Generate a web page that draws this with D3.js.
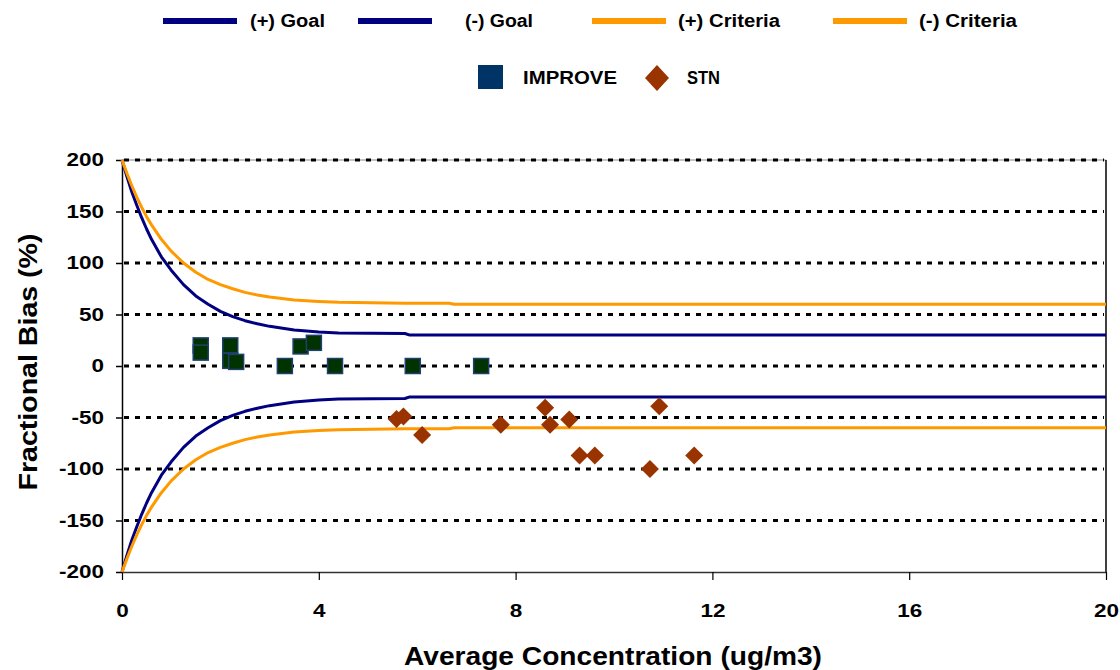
<!DOCTYPE html>
<html>
<head>
<meta charset="utf-8">
<script src="https://cdn.jsdelivr.net/npm/d3@7"></script>
<style>
  html, body { margin: 0; padding: 0; background: #fff; }
  svg { display: block; font-family: "Liberation Sans", Arial, sans-serif; }
</style>
</head>
<body>
<svg id="chart" width="1120" height="670"></svg>
<script>
// ---- data ----
const curveX        = [0, 0.1, 0.2, 0.3, 0.4, 0.5, 0.6, 0.8, 1.0, 1.25, 1.5, 1.75, 2.0, 2.25, 2.5, 2.75, 3.0, 3.5, 4.0, 4.4, 5.75, 5.85, 6.65, 6.75, 20];
const goalPlus      = [200, 184, 169, 156, 144, 133, 123, 106, 93, 79, 68, 60, 53, 48, 44, 41, 38.5, 35, 33, 32, 31.5, 30, 30, 30, 30];
const goalMinus     = [-200, -184, -169, -156, -144, -133, -123, -106, -93, -79, -68, -60, -53, -48, -44, -41, -38.5, -35, -33, -32, -31.5, -30, -30, -30, -30];
const criteriaPlus  = [200, 187, 175, 164, 154, 145, 137, 123, 111.5, 100, 91, 84, 79, 75, 71.5, 69, 67, 64, 62.6, 61.8, 61, 61, 61, 60, 60];
const criteriaMinus = [-200, -187, -175, -164, -154, -145, -137, -123, -111.5, -100, -91, -84, -79, -75, -71.5, -69, -67, -64, -62.6, -61.8, -61, -61, -61, -60, -60];

const improveX = [1.6, 1.6, 2.2, 2.2, 2.32, 3.31, 3.63, 3.9, 4.33, 5.91, 7.3];
const improveY = [20, 13, 20, 5, 4, 0, 19, 22.5, 0, 0, 0];

const stnX = [5.58, 5.72, 6.10, 7.70, 8.60, 8.70, 9.09, 9.30, 9.61, 10.73, 10.92, 11.63];
const stnY = [-51.5, -49, -67, -57, -40.5, -57, -52, -87, -87, -100, -39, -87];

const xTicks = [0, 4, 8, 12, 16, 20];
const yTicks = [200, 150, 100, 50, 0, -50, -100, -150, -200];

const legendLines = ["(+) Goal", "(-) Goal", "(+) Criteria", "(-) Criteria"];
const legendMarkers = ["IMPROVE", "STN"];

// ---- styles ----
const NAVY = "#000080", ORANGE = "#FF9900";
const SQ_FILL = "#003300", SQ_STROKE = "#1F3F6F", LEG_SQ = "#003366";
const DIAM = "#993300";
const SX = 1.25; // horizontal stretch of the original lettering

const svg = d3.select("#chart");
const L = 122, R = 1106, T = 160, B = 572;
const x = d3.scaleLinear().domain([0, 20]).range([L, R]);
const y = d3.scaleLinear().domain([-200, 200]).range([B, T]);

function stretchedText(px, py, str, size, len, anchor) {
  return svg.append("text").attr("x", px).attr("y", py).attr("font-size", size)
    .attr("font-weight", "bold").attr("fill", "#000")
    .attr("text-anchor", anchor || "start")
    .attr("textLength", len).attr("lengthAdjust", "spacingAndGlyphs").text(str);
}

// top solid line & right border
svg.append("line").attr("x1", L).attr("x2", R).attr("y1", T).attr("y2", T)
  .attr("stroke", "#888").attr("stroke-width", 1);
svg.append("line").attr("x1", R).attr("x2", R).attr("y1", T).attr("y2", B)
  .attr("stroke", "#000").attr("stroke-width", 1.5);

// gridlines (dotted)
svg.append("g").selectAll("line").data(yTicks.filter(d => d !== -200)).join("line")
  .attr("x1", L + 2).attr("x2", R - 2)
  .attr("y1", d => y(d)).attr("y2", d => y(d))
  .attr("stroke", "#000").attr("stroke-width", 3)
  .attr("stroke-dasharray", "5,6");

// axes
const yAxis = d3.axisLeft(y).tickValues(yTicks).tickSize(6).tickSizeOuter(0).tickPadding(0)
  .tickFormat(d => String(d));
const gy = svg.append("g").attr("transform", `translate(${L},0)`).call(yAxis);
gy.select(".domain").attr("stroke", "#000").attr("stroke-width", 1.5);
gy.selectAll(".tick line").attr("stroke", "#000").attr("stroke-width", 1.5);
gy.selectAll("text").attr("font-size", 18).attr("font-weight", "bold").attr("fill", "#000")
  .attr("font-family", "Liberation Sans, Arial, sans-serif")
  .attr("x", -18 / SX).attr("transform", `scale(${SX},1)`);

const xAxis = d3.axisBottom(x).tickValues(xTicks).tickSize(8).tickSizeOuter(0).tickPadding(0)
  .tickFormat(d => String(d));
const gx = svg.append("g").attr("transform", `translate(0,${B})`).call(xAxis);
gx.select(".domain").attr("stroke", "#333").attr("stroke-width", 1.5);
gx.selectAll(".tick line").attr("stroke", "#000").attr("stroke-width", 1.2);
gx.selectAll("text").attr("font-size", 18).attr("font-weight", "bold").attr("fill", "#000")
  .attr("font-family", "Liberation Sans, Arial, sans-serif")
  .attr("dy", null).attr("y", 45).attr("transform", `scale(${SX},1)`);

// axis titles
stretchedText(613, 665, "Average Concentration (ug/m3)", 26, 418, "middle");
svg.append("text").attr("transform", `translate(37,${362}) rotate(-90)`).attr("text-anchor", "middle")
  .attr("font-size", 26).attr("font-weight", "bold")
  .attr("textLength", 257).attr("lengthAdjust", "spacingAndGlyphs").text("Fractional Bias (%)");

// curves
const line = d3.line().x(d => x(d[0])).y(d => y(d[1]));
const curves = [
  { v: goalPlus, c: NAVY },
  { v: goalMinus, c: NAVY },
  { v: criteriaPlus, c: ORANGE },
  { v: criteriaMinus, c: ORANGE }
];
curves.forEach(cv => {
  svg.append("path").datum(curveX.map((xx, i) => [xx, cv.v[i]]))
    .attr("d", line).attr("fill", "none").attr("stroke", cv.c).attr("stroke-width", 3)
    .attr("stroke-linejoin", "round");
});

// IMPROVE squares
const S = 15;
svg.append("g").selectAll("rect").data(improveX.map((xx, i) => [xx, improveY[i]])).join("rect")
  .attr("x", d => x(d[0]) - S / 2).attr("y", d => y(d[1]) - S / 2)
  .attr("width", S).attr("height", S)
  .attr("fill", SQ_FILL).attr("stroke", SQ_STROKE).attr("stroke-width", 1.5);

// STN diamonds
const D = 9;
svg.append("g").selectAll("path").data(stnX.map((xx, i) => [xx, stnY[i]])).join("path")
  .attr("d", d => { const cx = x(d[0]), cy = y(d[1]);
    return `M${cx},${cy - D}L${cx + D},${cy}L${cx},${cy + D}L${cx - D},${cy}Z`; })
  .attr("fill", DIAM);

// legend
const legLineX = [163, 358, 592, 833];
const legTextX = [250, 465, 678, 919];
const legTextW = [75, 68, 102, 98];
const legColors = [NAVY, NAVY, ORANGE, ORANGE];
legendLines.forEach((t, i) => {
  svg.append("line").attr("x1", legLineX[i]).attr("x2", legLineX[i] + 74)
    .attr("y1", 21).attr("y2", 21).attr("stroke", legColors[i]).attr("stroke-width", 6);
  stretchedText(legTextX[i], 27, t, 18, legTextW[i]);
});
svg.append("rect").attr("x", 478).attr("y", 65).attr("width", 25).attr("height", 24).attr("fill", LEG_SQ);
stretchedText(523, 84, legendMarkers[0], 18, 94);
svg.append("path").attr("d", "M657,65L669,78L657,91L645,78Z").attr("fill", DIAM);
stretchedText(687, 84, legendMarkers[1], 18, 33);
</script>
</body>
</html>
